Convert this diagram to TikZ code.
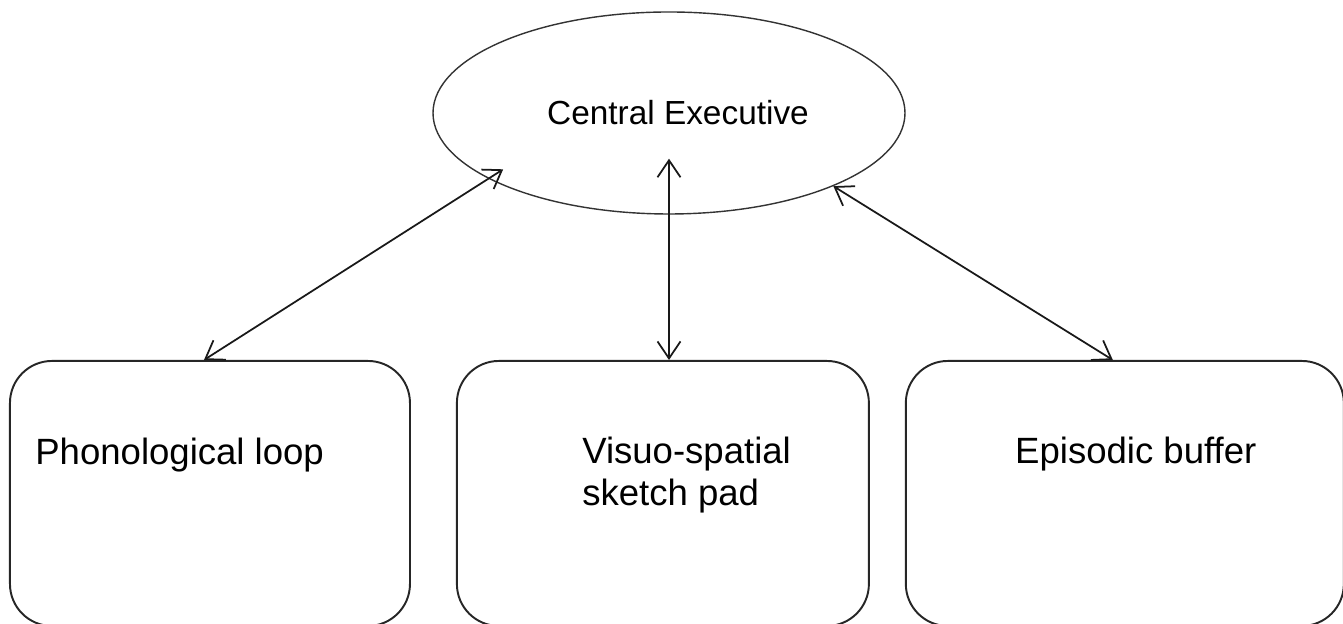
\documentclass[tikz,border=0pt]{standalone}
\usepackage{xcolor}
\usepackage{fontspec}
\setmainfont{Liberation Sans}
\usepackage{tikz}
\usetikzlibrary{shapes,arrows.meta,positioning}

\begin{document}
\begin{tikzpicture}[%
      exec/.style={draw=black!80, line width=0.8pt, ellipse, minimum width=9.44cm,
        minimum height=4.04cm, inner sep=0pt, font=\fontsize{19}{22}\selectfont},
      store/.style={draw=black!85, line width=1.1pt, rounded corners=0.84cm,
        minimum height=5.3cm, anchor=north west, inner sep=0pt},
      storetext/.style={anchor=north west, inner sep=0pt, align=left,
        font=\fontsize{20.8}{23.5}\selectfont},
      link/.style={{Straight Barb[length=0.34cm,width=0.46cm]}-{Straight Barb[length=0.34cm,width=0.46cm]},
        line width=1pt, black!90}]
      \useasboundingbox (0,0) rectangle (26.86,12.48);
      \node[exec] (ce) at (13.38,10.22) {\hspace{0.36cm}Central Executive};
      \node[store, minimum width=8cm] (pl) at (0.18,5.28) {};
      \node[store, minimum width=8.24cm, right=0.9cm of pl] (vsp) {};
      \node[store, minimum width=8.76cm, right=0.7cm of vsp] (eb) {};
      \node[storetext] (pltext) at ([xshift=0.52cm,yshift=-1.56cm]pl.north west) {Phonological loop};
      \node[storetext] (vsptext) at ([xshift=2.52cm,yshift=-1.54cm]vsp.north west) {Visuo-spatial\\sketch pad};
      \node[storetext] (ebtext) at ([xshift=2.2cm,yshift=-1.54cm]eb.north west) {Episodic buffer};
      \draw[link, shorten >=-0.35cm] ([xshift=-0.12cm]pl.north) -- (ce.200);
      \draw[link] (ce.south |- vsp.north) -- ([yshift=1.12cm]ce.south);
      \draw[link] (ce.-24) -- ([xshift=-0.24cm]eb.north);
    \end{tikzpicture}
\end{document}
